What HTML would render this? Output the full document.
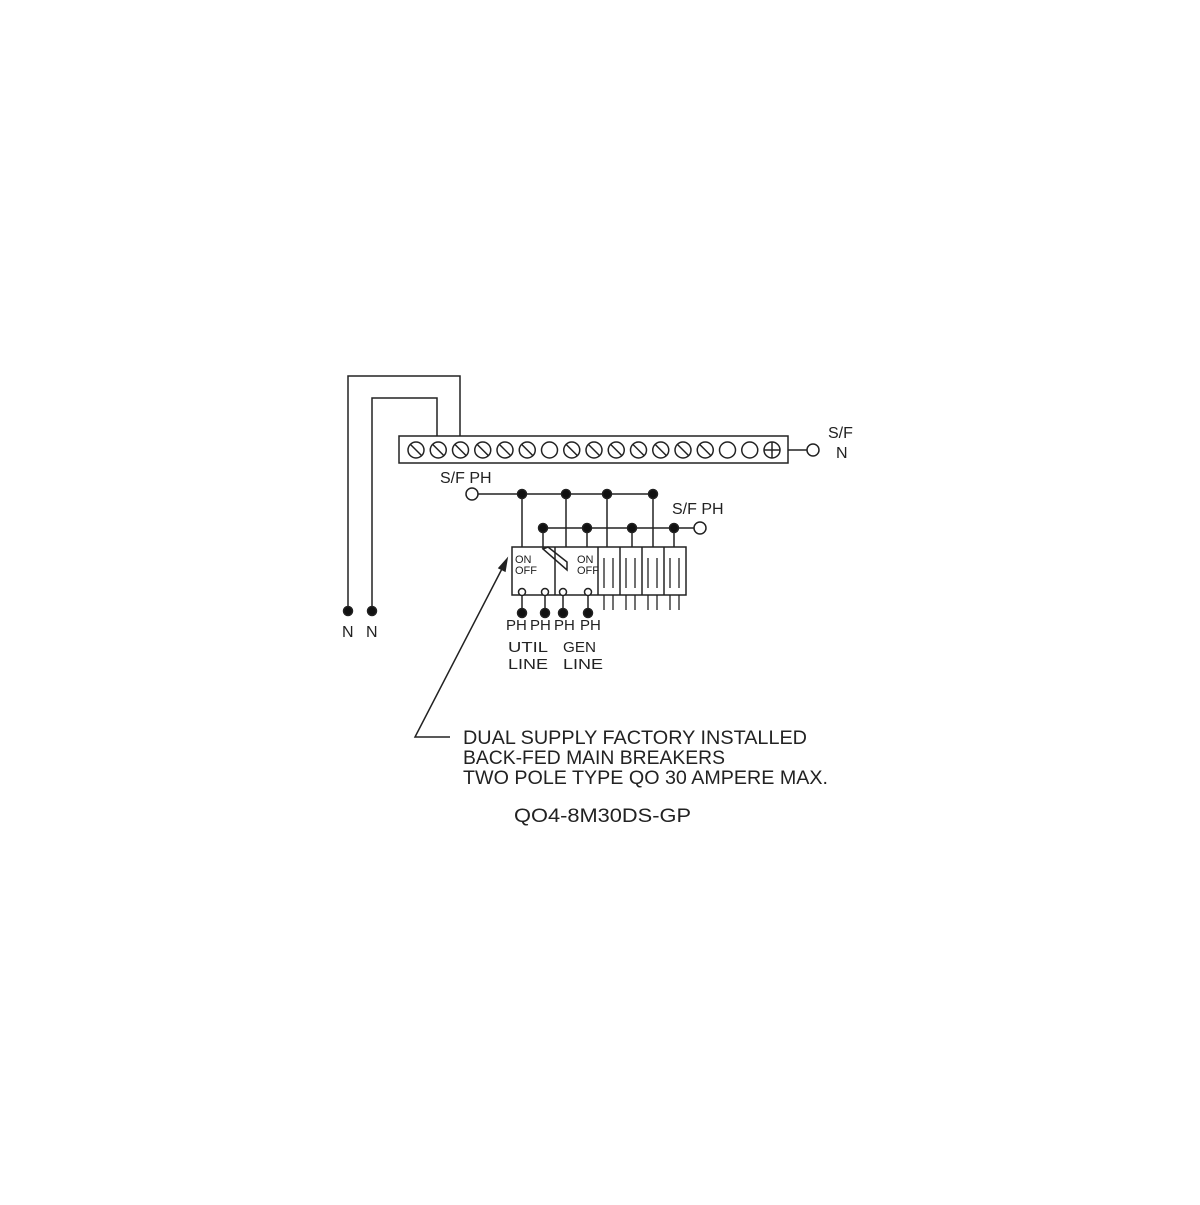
<!DOCTYPE html>
<html><head><style>html,body{margin:0;padding:0;background:#fff}</style></head>
<body>
<svg width="1200" height="1200" viewBox="0 0 1200 1200" xmlns="http://www.w3.org/2000/svg" font-family="'Liberation Sans', sans-serif" fill="none" stroke="#222" stroke-width="1.5">
<rect width="1200" height="1200" fill="#fff" stroke="none"/>
<!-- wires -->
<polyline points="348,611 348,376 460,376 460,436"/>
<polyline points="372,611 372,398 437,398 437,436"/>
<circle cx="348" cy="611" r="4.5" fill="#111"/>
<circle cx="372" cy="611" r="4.5" fill="#111"/>
<g fill="#222" stroke="none" font-size="16">
<text x="342" y="637">N</text><text x="366" y="637">N</text>
</g>
<!-- terminal bar -->
<rect x="399" y="436" width="389" height="27"/>
<g id="terms">
<circle cx="416" cy="450" r="8"/><line x1="410" y1="444" x2="422" y2="456"/>
<circle cx="438.25" cy="450" r="8"/><line x1="432.25" y1="444" x2="444.25" y2="456"/>
<circle cx="460.5" cy="450" r="8"/><line x1="454.5" y1="444" x2="466.5" y2="456"/>
<circle cx="482.75" cy="450" r="8"/><line x1="476.75" y1="444" x2="488.75" y2="456"/>
<circle cx="505" cy="450" r="8"/><line x1="499" y1="444" x2="511" y2="456"/>
<circle cx="527.25" cy="450" r="8"/><line x1="521.25" y1="444" x2="533.25" y2="456"/>
<circle cx="549.5" cy="450" r="8"/>
<circle cx="571.75" cy="450" r="8"/><line x1="565.75" y1="444" x2="577.75" y2="456"/>
<circle cx="594" cy="450" r="8"/><line x1="588" y1="444" x2="600" y2="456"/>
<circle cx="616.25" cy="450" r="8"/><line x1="610.25" y1="444" x2="622.25" y2="456"/>
<circle cx="638.5" cy="450" r="8"/><line x1="632.5" y1="444" x2="644.5" y2="456"/>
<circle cx="660.75" cy="450" r="8"/><line x1="654.75" y1="444" x2="666.75" y2="456"/>
<circle cx="683" cy="450" r="8"/><line x1="677" y1="444" x2="689" y2="456"/>
<circle cx="705.25" cy="450" r="8"/><line x1="699.25" y1="444" x2="711.25" y2="456"/>
<circle cx="727.5" cy="450" r="8"/>
<circle cx="749.75" cy="450" r="8"/>
<circle cx="772" cy="450" r="8"/><line x1="764" y1="450" x2="780" y2="450"/><line x1="772" y1="442" x2="772" y2="458"/>
</g>
<line x1="788" y1="450" x2="807" y2="450"/>
<circle cx="813" cy="450" r="6"/>
<g fill="#222" stroke="none" font-size="16">
<text x="828" y="438">S/F</text><text x="836" y="458">N</text>
<text x="440" y="483">S/F  PH</text>
<text x="672" y="514">S/F  PH</text>
</g>
<!-- buses -->
<circle cx="472" cy="494" r="6"/>
<line x1="478" y1="494" x2="653" y2="494"/>
<line x1="543" y1="528" x2="694" y2="528"/>
<circle cx="700" cy="528" r="6"/>
<line x1="522" y1="494" x2="522" y2="547"/>
<line x1="566" y1="494" x2="566" y2="547"/>
<line x1="607" y1="494" x2="607" y2="547"/>
<line x1="653" y1="494" x2="653" y2="547"/>
<line x1="543" y1="528" x2="543" y2="549"/>
<line x1="587" y1="528" x2="587" y2="547"/>
<line x1="632" y1="528" x2="632" y2="547"/>
<line x1="674" y1="528" x2="674" y2="547"/>
<g fill="#111">
<circle cx="522" cy="494" r="4.5"/><circle cx="566" cy="494" r="4.5"/><circle cx="607" cy="494" r="4.5"/><circle cx="653" cy="494" r="4.5"/>
<circle cx="543" cy="528" r="4.5"/><circle cx="587" cy="528" r="4.5"/><circle cx="632" cy="528" r="4.5"/><circle cx="674" cy="528" r="4.5"/>
</g>
<!-- breakers -->
<rect x="512" y="547" width="174" height="48"/>
<line x1="555" y1="547" x2="555" y2="595"/>
<line x1="598" y1="547" x2="598" y2="595"/>
<line x1="620" y1="547" x2="620" y2="595"/>
<line x1="642" y1="547" x2="642" y2="595"/>
<line x1="664" y1="547" x2="664" y2="595"/>
<polygon points="543,549 548,547 567,562 567,570"/>
<g stroke-width="1.3">
<line x1="604" y1="558" x2="604" y2="588"/><line x1="613" y1="558" x2="613" y2="588"/>
<line x1="626" y1="558" x2="626" y2="588"/><line x1="635" y1="558" x2="635" y2="588"/>
<line x1="648" y1="558" x2="648" y2="588"/><line x1="657" y1="558" x2="657" y2="588"/>
<line x1="670" y1="558" x2="670" y2="588"/><line x1="679" y1="558" x2="679" y2="588"/>
<line x1="604" y1="595" x2="604" y2="610"/><line x1="613" y1="595" x2="613" y2="610"/>
<line x1="626" y1="595" x2="626" y2="610"/><line x1="635" y1="595" x2="635" y2="610"/>
<line x1="648" y1="595" x2="648" y2="610"/><line x1="657" y1="595" x2="657" y2="610"/>
<line x1="670" y1="595" x2="670" y2="610"/><line x1="679" y1="595" x2="679" y2="610"/>
</g>
<g fill="#222" stroke="none" font-size="11">
<text x="515" y="563">ON</text><text x="515" y="574">OFF</text>
<text x="577" y="563">ON</text><text x="577" y="574">OFF</text>
</g>
<!-- outputs -->
<g>
<circle cx="522" cy="592" r="3.5" fill="#fff"/><line x1="522" y1="596" x2="522" y2="613"/><circle cx="522" cy="613" r="4.5" fill="#111"/>
<circle cx="545" cy="592" r="3.5" fill="#fff"/><line x1="545" y1="596" x2="545" y2="613"/><circle cx="545" cy="613" r="4.5" fill="#111"/>
<circle cx="563" cy="592" r="3.5" fill="#fff"/><line x1="563" y1="596" x2="563" y2="613"/><circle cx="563" cy="613" r="4.5" fill="#111"/>
<circle cx="588" cy="592" r="3.5" fill="#fff"/><line x1="588" y1="596" x2="588" y2="613"/><circle cx="588" cy="613" r="4.5" fill="#111"/>
</g>
<g fill="#222" stroke="none" font-size="15">
<text x="506" y="630">PH</text><text x="530" y="630">PH</text><text x="554" y="630">PH</text><text x="580" y="630">PH</text>
<text x="508" y="652" textLength="40" lengthAdjust="spacingAndGlyphs">UTIL</text>
<text x="563" y="652" textLength="33" lengthAdjust="spacingAndGlyphs">GEN</text>
<text x="508" y="669" textLength="40" lengthAdjust="spacingAndGlyphs">LINE</text>
<text x="563" y="669" textLength="40" lengthAdjust="spacingAndGlyphs">LINE</text>
</g>
<!-- leader -->
<polyline points="450,737 415,737 505,563"/>
<polygon points="507,559 499,568 505,571" fill="#222"/>
<g fill="#222" stroke="none" font-size="19">
<text x="463" y="744" textLength="344" lengthAdjust="spacingAndGlyphs">DUAL SUPPLY FACTORY INSTALLED</text>
<text x="463" y="764" textLength="262" lengthAdjust="spacingAndGlyphs">BACK-FED MAIN BREAKERS</text>
<text x="463" y="784" textLength="365" lengthAdjust="spacingAndGlyphs">TWO POLE TYPE QO 30 AMPERE MAX.</text>
<text x="514" y="822" textLength="177" lengthAdjust="spacingAndGlyphs">QO4-8M30DS-GP</text>
</g>
</svg>
</body></html>
